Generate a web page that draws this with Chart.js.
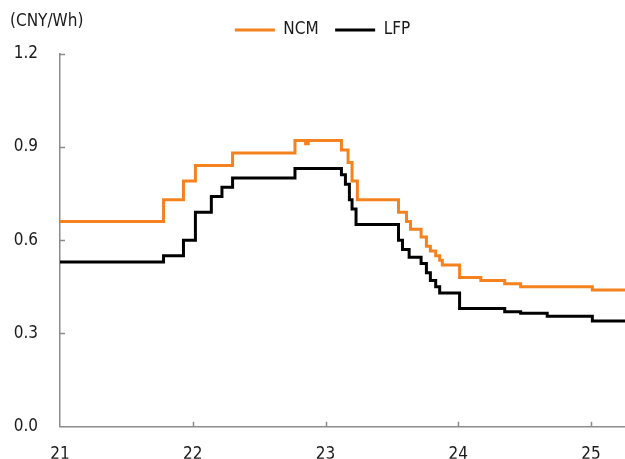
<!DOCTYPE html>
<html>
<head>
<meta charset="utf-8">
<script src="https://cdn.jsdelivr.net/npm/chart.js@4/dist/chart.umd.min.js"></script>
<style>
  html, body { margin: 0; padding: 0; background: #ffffff; }
  #wrap { position: relative; width: 625px; height: 459px; }
</style>
</head>
<body>
<div id="wrap"><canvas id="c"></canvas></div>
<script>
// ---- data ----
const seriesNames = ['NCM', 'LFP'];
const unitLabel = '(CNY/Wh)';
const xTickValues = [21, 22, 23, 24, 25];
const yTickValues = [0.0, 0.3, 0.6, 0.9, 1.2];

const ncmDates  = [21, 21.78, 21.93, 22.02, 22.30, 22.77, 22.85, 22.87, 23.12, 23.17, 23.20, 23.24,
                   23.55, 23.61, 23.64, 23.72, 23.76, 23.79, 23.83, 23.86, 23.88, 24.01, 24.17,
                   24.35, 24.47, 25.01, 25.256];
const ncmPrices = [0.66, 0.73, 0.79, 0.84, 0.88, 0.92, 0.91, 0.92, 0.89, 0.85, 0.79, 0.73,
                   0.69, 0.66, 0.635, 0.61, 0.58, 0.565, 0.55, 0.535, 0.52, 0.48, 0.47,
                   0.46, 0.45, 0.44, 0.44];

const lfpDates  = [21, 21.78, 21.93, 22.02, 22.14, 22.22, 22.30, 22.77, 23.12, 23.15, 23.18, 23.20,
                   23.23, 23.55, 23.58, 23.63, 23.72, 23.76, 23.79, 23.83, 23.86, 24.01, 24.35,
                   24.47, 24.67, 25.01, 25.256];
const lfpPrices = [0.53, 0.55, 0.60, 0.69, 0.74, 0.77, 0.80, 0.83, 0.81, 0.78, 0.73, 0.70,
                   0.65, 0.60, 0.57, 0.545, 0.525, 0.495, 0.47, 0.45, 0.43, 0.38, 0.37,
                   0.365, 0.355, 0.34, 0.34];

// ---- styling ----
const FONT = "'DejaVu Sans Condensed', 'Liberation Sans Narrow', 'Arial Narrow', sans-serif";
const TEXT = '#1a1a1a';
const AXIS = '#8c8c8c';
const ORANGE = '#f4821f';
const BLACK = '#000000';

function toPoints(xs, ys) { return xs.map((x, i) => ({ x: x, y: ys[i] })); }

const decor = {
  id: 'decor',
  afterLayout(chart) {
    chart.legend.left += 10;
    chart.legend.right += 10;
    chart.legend.top -= 5;
    chart.legend.bottom -= 5;
  },
  afterDraw(chart) {
    const ctx = chart.ctx;
    const xs = chart.scales.x, ys = chart.scales.y;
    const area = chart.chartArea;
    ctx.save();
    ctx.strokeStyle = AXIS;
    ctx.lineWidth = 1.5;
    ctx.beginPath();
    xs.ticks.forEach(t => {
      if (t.value === xs.min) return;
      const px = Math.round(xs.getPixelForValue(t.value)) + 0.5;
      ctx.moveTo(px, area.bottom);
      ctx.lineTo(px, area.bottom - 5);
    });
    ys.ticks.forEach(t => {
      if (t.value === 0) return;
      const py = Math.round(ys.getPixelForValue(t.value)) + 0.5;
      ctx.moveTo(area.left, py);
      ctx.lineTo(area.left + 5, py);
    });
    ctx.stroke();
    ctx.fillStyle = TEXT;
    ctx.font = '17px ' + FONT;
    ctx.textAlign = 'left';
    ctx.textBaseline = 'middle';
    ctx.fillText(unitLabel, 10, 22);
    ctx.restore();
  }
};

new Chart(document.getElementById('c'), {
  type: 'line',
  data: {
    datasets: [
      { label: seriesNames[0], data: toPoints(ncmDates, ncmPrices), borderColor: ORANGE, backgroundColor: ORANGE,
        borderWidth: 3, pointRadius: 0, stepped: true, fill: false },
      { label: seriesNames[1], data: toPoints(lfpDates, lfpPrices), borderColor: BLACK, backgroundColor: BLACK,
        borderWidth: 3, pointRadius: 0, stepped: true, fill: false }
    ]
  },
  options: {
    responsive: true,
    maintainAspectRatio: false,
    animation: false,
    layout: { padding: { top: 10, left: 0, right: 0, bottom: 0 } },
    plugins: {
      legend: {
        position: 'top',
        labels: {
          usePointStyle: true,
          pointStyle: 'line',
          pointStyleWidth: 40,
          padding: 16.5,
          color: TEXT,
          font: { family: FONT, size: 17 }
        }
      },
      tooltip: { enabled: false }
    },
    scales: {
      x: {
        type: 'linear',
        min: 21,
        max: 25.256,
        afterFit(s) { s.height = 32; },
        afterBuildTicks(s) { s.ticks = xTickValues.map(v => ({ value: v })); },
        ticks: { stepSize: 1, padding: 18, color: TEXT, font: { family: FONT, size: 17 },
                 callback: v => String(v) },
        grid: { display: true, drawOnChartArea: false, drawTicks: false },
        border: { display: true, color: AXIS, width: 1.5 }
      },
      y: {
        min: 0,
        max: 1.2,
        afterFit(s) { s.width = 60; },
        afterBuildTicks(s) { s.ticks = yTickValues.map(v => ({ value: v })); },
        ticks: { stepSize: 0.3, padding: 22, color: TEXT, font: { family: FONT, size: 17 },
                 callback: v => Number(v).toFixed(1) },
        grid: { display: true, drawOnChartArea: false, drawTicks: false },
        border: { display: true, color: AXIS, width: 1.5 }
      }
    }
  },
  plugins: [decor]
});
</script>
</body>
</html>
